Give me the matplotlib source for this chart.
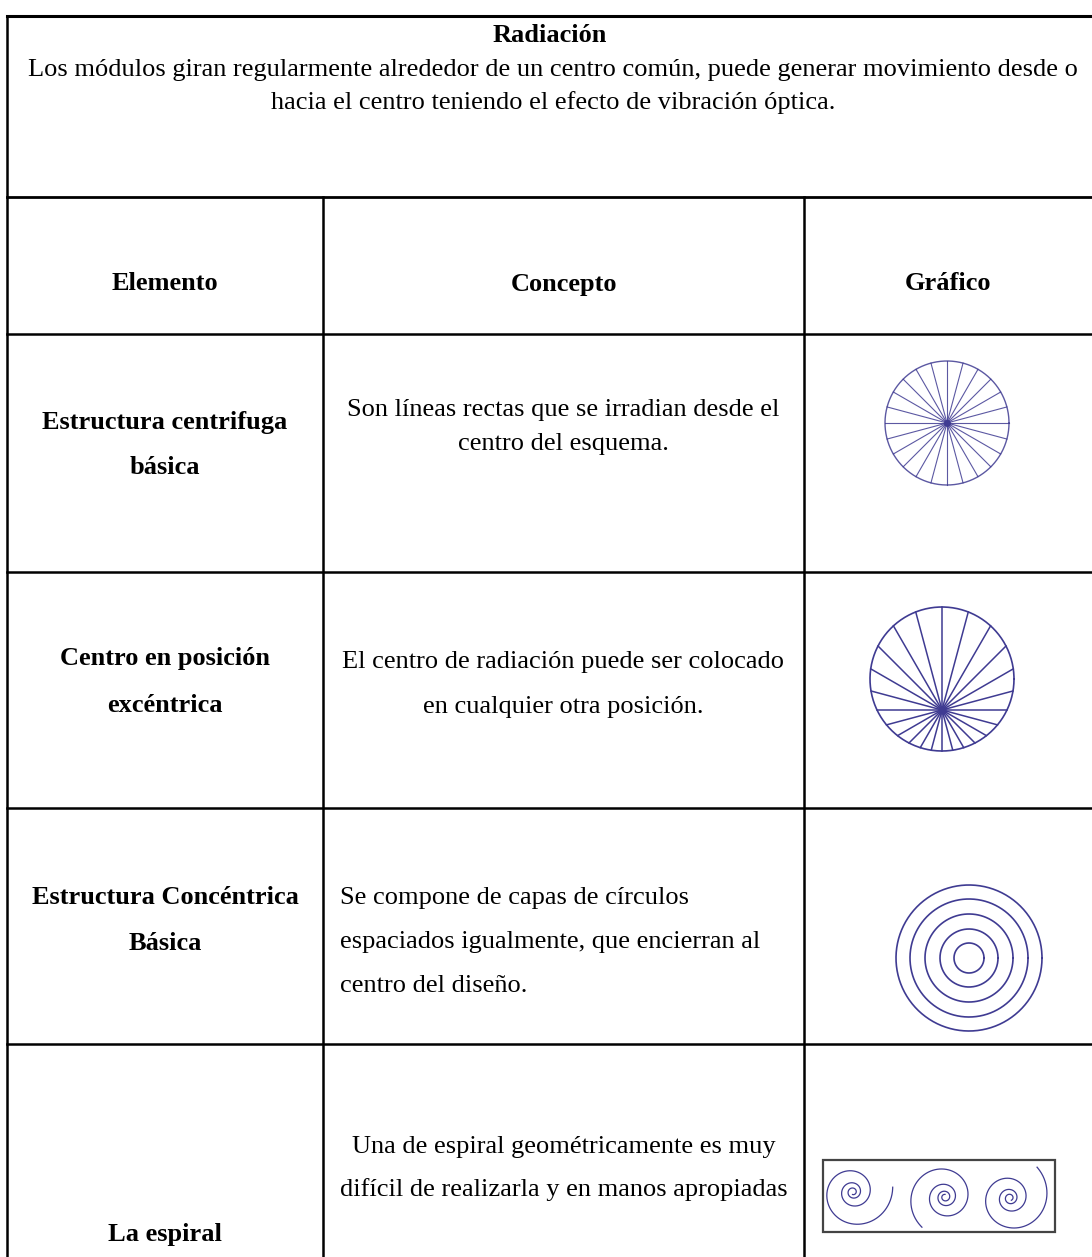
import matplotlib
matplotlib.use("Agg")
import matplotlib.pyplot as plt
import numpy as np

plt.rcParams['font.family'] = ['Liberation Serif', 'DejaVu Serif']

# ---- table content ----
title = "Radiación"
intro = ["Los módulos giran regularmente alrededor de un centro común, puede generar movimiento desde o",
         "hacia el centro teniendo el efecto de vibración óptica."]
headers = ["Elemento", "Concepto", "Gráfico"]
elementos = [["Estructura centrifuga", "básica"],
             ["Centro en posición", "excéntrica"],
             ["Estructura Concéntrica", "Básica"],
             ["La espiral"]]
conceptos = [["Son líneas rectas que se irradian desde el", "centro del esquema."],
             ["El centro de radiación puede ser colocado", "en cualquier otra posición."],
             ["Se compone de capas de círculos", "espaciados igualmente, que encierran al",
              "centro del diseño."],
             ["Una de espiral geométricamente es muy",
              "difícil de realizarla y en manos apropiadas"]]

# graphic data
spoke_angles = np.arange(0, 360, 15)          # degrees, 24 rays
ring_radii = [15, 29, 44, 59, 73]             # px
spiral_turns = [3.3, 3.4, 3.3]
spiral_growth = [2.3, 2.2, 2.3]               # radius factor per turn
spiral_end_angle = [-0.12, -4.06, -0.85]      # rad
spiral_end_radius = [40, 38, 41]

INK = "#3f3b92"

W, H = 1092, 1257
fig = plt.figure(figsize=(W / 100, H / 100), dpi=100)
ax = fig.add_axes([0, 0, 1, 1])
ax.set_xlim(0, W)
ax.set_ylim(H, 0)
ax.set_aspect('equal')
ax.axis('off')

# ---- grid ----
x_left, x_c1, x_c2, x_right = 7, 323, 804, 1092
y_top, y_head, y_hdr = 16, 197, 334
row_lines = [572, 808, 1044]
fs = 19

ax.plot([x_left, x_right], [y_top, y_top], color='black', lw=2.2)
ax.plot([x_left, x_right], [y_head, y_head], color='black', lw=2.0)
ax.plot([x_left, x_left], [y_top, H], color='black', lw=1.8)
ax.plot([x_c1, x_c1], [y_head, H], color='black', lw=1.8)
ax.plot([x_c2, x_c2], [y_head, H], color='black', lw=1.8)
for y in [y_hdr] + row_lines:
    ax.plot([x_left, x_right], [y, y], color='black', lw=1.8)

# ---- title block ----
ax.text(550, 35, title, ha='center', va='center', fontsize=fs, fontweight='bold')
ax.text(553, 70, intro[0], ha='center', va='center', fontsize=fs)
ax.text(553, 103, intro[1], ha='center', va='center', fontsize=fs)

# ---- headers ----
col_cx = [(x_left + x_c1) / 2, (x_c1 + x_c2) / 2, (x_c2 + x_right) / 2]
for cx, h in zip(col_cx, headers):
    ax.text(cx, 284, h, ha='center', va='center', fontsize=fs, fontweight='bold')

# ---- element column ----
elem_y = [[422, 468], [659, 705], [897, 943], [1235]]
for lines, ys in zip(elementos, elem_y):
    for t, y in zip(lines, ys):
        ax.text(col_cx[0], y, t, ha='center', va='center', fontsize=fs, fontweight='bold')

# ---- concept column ----
conc_y = [[410, 444], [662, 707], [898, 942, 986], [1147, 1190]]
for i, (lines, ys) in enumerate(zip(conceptos, conc_y)):
    for t, y in zip(lines, ys):
        if i == 2:
            ax.text(340, y, t, ha='left', va='center', fontsize=fs)
        else:
            ax.text(col_cx[1], y, t, ha='center', va='center', fontsize=fs)

# ---- graphic 1: centrifugal ----
cx, cy, r = 947, 423, 62
th = np.linspace(0, 2 * np.pi, 200)
ax.plot(cx + r * np.cos(th), cy + r * np.sin(th), color=INK, lw=1.0, alpha=0.85)
for a in np.radians(spoke_angles):
    ax.plot([cx, cx + r * np.cos(a)], [cy, cy + r * np.sin(a)], color=INK, lw=0.8, alpha=0.85)
ax.plot(cx, cy, 'o', color=INK, ms=4)

# ---- graphic 2: eccentric ----
cx, cy, r = 942, 679, 72
px, py = 942, 710
ax.plot(cx + r * np.cos(th), cy + r * np.sin(th), color=INK, lw=1.2)
for a in np.radians(spoke_angles):
    dx, dy = np.cos(a), np.sin(a)
    fx, fy = px - cx, py - cy
    b = fx * dx + fy * dy
    t = -b + np.sqrt(b * b - (fx * fx + fy * fy - r * r))
    ax.plot([px, px + t * dx], [py, py + t * dy], color=INK, lw=1.1)
ax.plot(px, py, 'o', color=INK, ms=5)

# ---- graphic 3: concentric ----
cx, cy = 969, 958
for rr in ring_radii:
    ax.plot(cx + rr * np.cos(th), cy + rr * np.sin(th), color=INK, lw=1.2)

# ---- graphic 4: spirals ----
ax.add_patch(plt.Rectangle((823, 1160), 232, 72, fill=False, ec='#444444', lw=1.6))
centers = [(853, 1192), (945, 1197), (1010, 1198)]
for (sx, sy), turns, g, a_end, r_end in zip(centers, spiral_turns, spiral_growth,
                                            spiral_end_angle, spiral_end_radius):
    k = np.log(g) / (2 * np.pi)
    ang = np.linspace(a_end + turns * 2 * np.pi, a_end, 800)
    rr = r_end * np.exp(-k * (ang - a_end))
    ax.plot(sx + rr * np.cos(ang), sy + rr * np.sin(ang), color=INK, lw=0.9)

fig.savefig("out.png", dpi=100)
